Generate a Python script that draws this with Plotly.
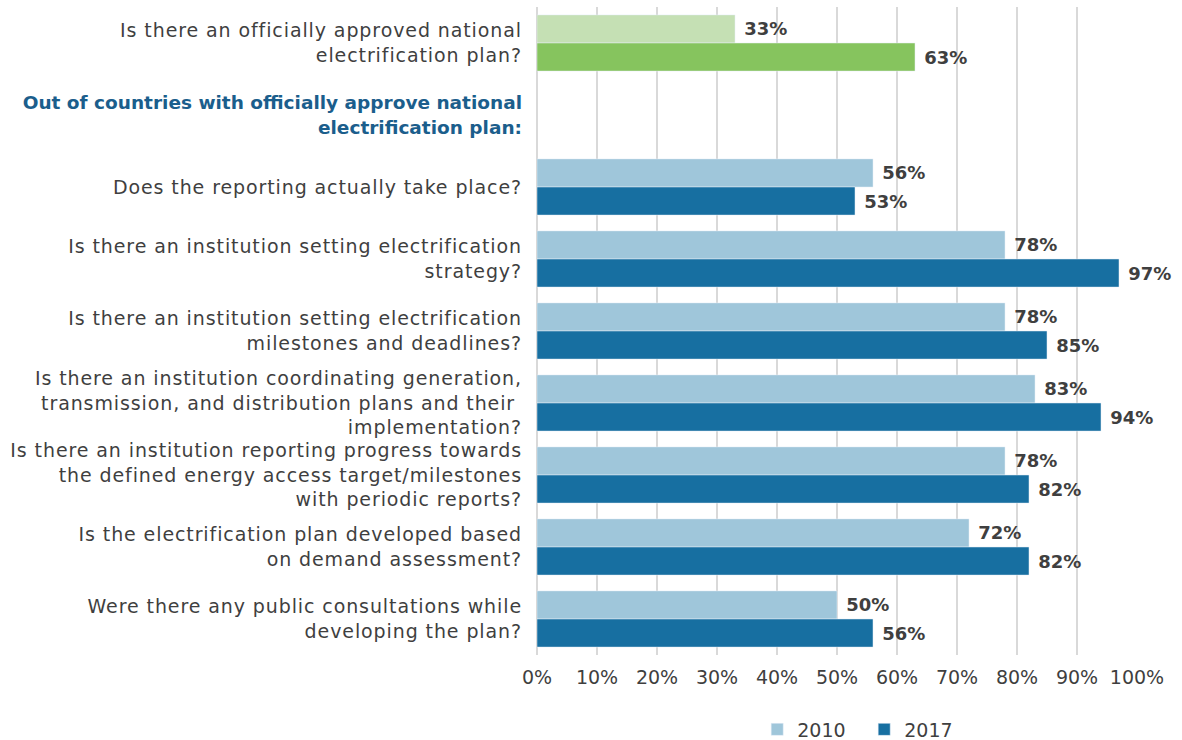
import plotly.graph_objects as go

categories = [
    "Is there an officially approved national<br>electrification plan?",
    "Out of countries with officially approve national<br>electrification plan:",
    "Does the reporting actually take place?",
    "Is there an institution setting electrification<br>strategy?",
    "Is there an institution setting electrification<br>milestones and deadlines?",
    "Is there an institution coordinating generation,<br>transmission, and distribution plans and their <br>implementation?",
    "Is there an institution reporting progress towards<br>the defined energy access target/milestones<br>with periodic reports?",
    "Is the electrification plan developed based<br>on demand assessment?",
    "Were there any public consultations while<br>developing the plan?",
]
header_index = 1
plan_2010 = [33]
plan_2017 = [63]
vals_2010 = [56, 78, 78, 83, 78, 72, 50]
vals_2017 = [53, 97, 85, 94, 82, 82, 56]
series_names = ["2010", "2017"]
tick_vals = [0, 10, 20, 30, 40, 50, 60, 70, 80, 90, 100]
tick_text = [f"{v}%" for v in tick_vals]

plan_cats = categories[:1]
blue_cats = categories[2:]

FONT = "DejaVu Sans"
TXT = "#3F3F3F"
label_font_b = dict(family=FONT, size=18, color=TXT, weight="bold")


def lab(vals):
    return [f"\u00a0{v}%" for v in vals]


fig = go.Figure()
fig.add_trace(go.Bar(y=plan_cats, x=plan_2010, orientation="h", marker_color="#C5E0B4",
                     offsetgroup="a", showlegend=False, text=lab(plan_2010),
                     textposition="outside", textfont=label_font_b, cliponaxis=False))
fig.add_trace(go.Bar(y=plan_cats, x=plan_2017, orientation="h", marker_color="#86C45E",
                     offsetgroup="b", showlegend=False, text=lab(plan_2017),
                     textposition="outside", textfont=label_font_b, cliponaxis=False))
fig.add_trace(go.Bar(y=blue_cats, x=vals_2010, orientation="h", marker_color="#9FC6DA",
                     offsetgroup="a", name=series_names[0], text=lab(vals_2010),
                     textposition="outside", textfont=label_font_b, cliponaxis=False))
fig.add_trace(go.Bar(y=blue_cats, x=vals_2017, orientation="h", marker_color="#176FA1",
                     offsetgroup="b", name=series_names[1], text=lab(vals_2017),
                     textposition="outside", textfont=label_font_b, cliponaxis=False))

tick_labels = []
for i, c in enumerate(categories):
    if i == header_index:
        tick_labels.append(
            f"<b><span style='color:#1B5E8C;font-size:18.5px'>{c}</span></b>")
    else:
        tick_labels.append(f"<span style='letter-spacing:0.9px'>{c}</span>")

fig.update_layout(
    width=1182, height=740,
    paper_bgcolor="white", plot_bgcolor="white",
    margin=dict(l=537, r=45, t=7, b=85, autoexpand=False),
    barmode="group", bargap=0.22, bargroupgap=0,
    font=dict(family=FONT, size=19, color=TXT),
    showlegend=True,
    legend=dict(orientation="h", x=0.367, xanchor="left", y=-0.115, yanchor="middle",
                font=dict(family=FONT, size=19, color=TXT),
                itemwidth=30, entrywidth=62, traceorder="normal"),
)
fig.update_xaxes(range=[0, 100], tickvals=tick_vals, ticktext=tick_text,
                 showgrid=True, gridcolor="#D9D9D9", gridwidth=2,
                 zeroline=True, zerolinecolor="#D9D9D9", zerolinewidth=2,
                 tickfont=dict(family=FONT, size=19, color=TXT),
                 ticks="", automargin=False, ticklabelstandoff=9)
fig.update_yaxes(categoryorder="array", categoryarray=categories, type="category",
                 tickvals=categories, ticktext=tick_labels,
                 autorange="reversed", tickfont=dict(family=FONT, size=19, color=TXT),
                 ticks="", ticklabelstandoff=14, showgrid=False, automargin=False)

fig.write_html("out.html", post_script="document.body.style.margin='0';",
               config={"displayModeBar": False})
